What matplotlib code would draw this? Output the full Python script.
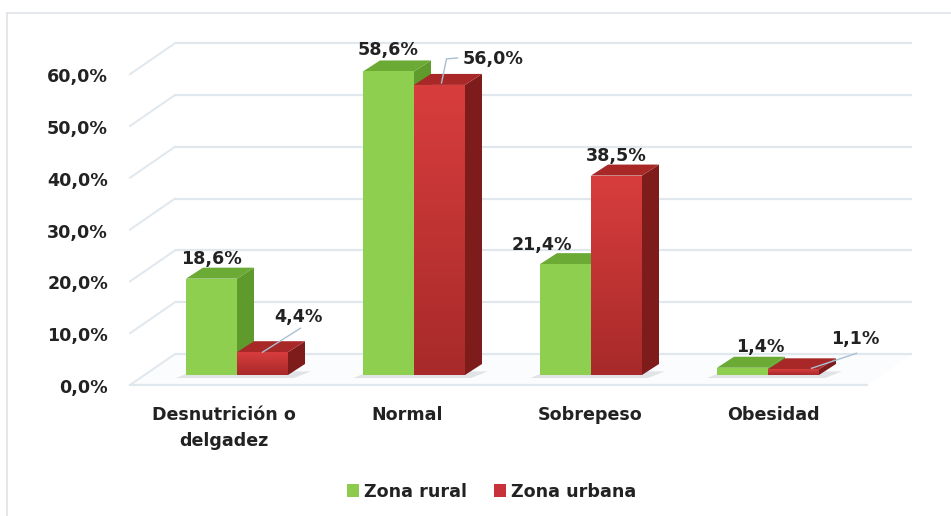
import numpy as np
import matplotlib
matplotlib.use("Agg")
import matplotlib.pyplot as plt
from matplotlib.patches import Polygon, Rectangle, Patch
from matplotlib.lines import Line2D
from matplotlib.colors import LinearSegmentedColormap

# ---------------- data ----------------
categories = ["Desnutrición o\ndelgadez", "Normal", "Sobrepeso", "Obesidad"]
series_names = ["Zona rural", "Zona urbana"]
rural = [18.6, 58.6, 21.4, 1.4]
urbana = [4.4, 56.0, 38.5, 1.1]
y_ticks = [0, 10, 20, 30, 40, 50, 60]


def fmt(v):
    return f"{v:.1f}".replace(".", ",") + "%"


# ---------------- figure / projection ----------------
W, H, DPI = 951, 516, 100
fig = plt.figure(figsize=(W / DPI, H / DPI), dpi=DPI)
fig.patch.set_facecolor("white")
ax = fig.add_axes([0, 0, 1, 1])
ax.axis("off")

X0_PX, Y0_PX = 237.0, 375.0      # pixel of category 0 / value 0 (bar front base)
PX_PER_CAT = 177.0
PX_PER_PCT = 5.18
XLIM = (-X0_PX / PX_PER_CAT, (W - X0_PX) / PX_PER_CAT)
YLIM = (-(H - Y0_PX) / PX_PER_PCT, Y0_PX / PX_PER_PCT)


def dx(px):
    return px / PX_PER_CAT


def dy(px):  # px measured downward on screen
    return -px / PX_PER_PCT


def P(xpx, ypx):  # screen pixel -> data
    return ((xpx - X0_PX) / PX_PER_CAT, (Y0_PX - ypx) / PX_PER_PCT)


FONT = dict(family="DejaVu Sans", weight="bold", size=12.6)
TXT = "#222222"
GRID = "#e0e7ed"

# ---------------- walls / gridlines ----------------
fl = [P(130, 385), P(867, 385), P(912, 354), P(175, 354)]
ax.add_patch(Polygon(fl, closed=True, facecolor="#fbfcfd", edgecolor="none", zorder=0))

for v in y_ticks:
    bx0, by = P(175, 354)
    bx1, _ = P(912, 354)
    fx, fy = P(130, 385)
    ax.plot([bx0, bx1], [by + v, by + v], color=GRID, lw=1.6, zorder=1,
            solid_capstyle="butt")
    ax.plot([fx, bx0], [fy + v, by + v], color=GRID, lw=1.4, zorder=1)
    lx, _ = P(108, 0)
    ax.text(lx, fy + v + dy(8), fmt(v), ha="right", va="baseline", color=TXT, **FONT)

fx0, fy0 = P(130, 385)
fx1, _ = P(867, 385)
ax.plot([fx0, fx1], [fy0, fy0], color=GRID, lw=1.6, zorder=1)

# ---------------- 3D bars ----------------
BW = dx(51)
DEPX, DEPY = dx(17), dy(-11)

colors = {
    "rural": dict(front="#8fcf4f", side="#5e9a2c", top="#6aaa35"),
    "urbana": dict(front="#cf3535", side="#7e1c1c", top="#a82828"),
}
red_cmap = LinearSegmentedColormap.from_list("r", ["#a82a2a", "#d83d3d"])

# shadows on floor
for i in range(len(categories)):
    xl = i - BW - dx(10)
    xr = i + BW + DEPX + dx(6)
    shadow = [(xl, dy(3)), (xr - DEPX, dy(3)), (xr, dy(3) + DEPY * 0.6),
              (xl + DEPX, dy(3) + DEPY * 0.6)]
    ax.add_patch(Polygon(shadow, closed=True, facecolor="#c9cdd2", alpha=0.5,
                         edgecolor="none", zorder=2))


def bar3d(x_left, v, c, gradient=None):
    x_r = x_left + BW
    side = [(x_r, 0), (x_r + DEPX, DEPY), (x_r + DEPX, v + DEPY), (x_r, v)]
    top = [(x_left, v), (x_r, v), (x_r + DEPX, v + DEPY), (x_left + DEPX, v + DEPY)]
    ax.add_patch(Polygon(side, closed=True, facecolor=c["side"], edgecolor="none", zorder=3))
    ax.add_patch(Polygon(top, closed=True, facecolor=c["top"], edgecolor="none", zorder=3))
    rect = Rectangle((x_left, 0), BW, v, facecolor=c["front"], edgecolor="none", zorder=3)
    ax.add_patch(rect)
    if gradient is not None:
        g = np.linspace(0, 1, 64).reshape(-1, 1)
        im = ax.imshow(g, cmap=gradient, origin="lower", aspect="auto",
                       extent=[x_left, x_r, 0, v], zorder=3.1, interpolation="bilinear")
        im.set_clip_path(rect)


for i in range(len(categories)):
    bar3d(i - BW, rural[i], colors["rural"])
    bar3d(i, urbana[i], colors["urbana"], gradient=red_cmap)

ax.set_xlim(*XLIM)
ax.set_ylim(*YLIM)

# ---------------- data labels ----------------
rural_off = [(0, -15), (0, -16), (-24, -14), (18, -16)]
urb_off = [(36, -30), (54, -21), (0, -15), (62, -25)]
leader = {
    0: [(0, 0), (38, -24)],
    1: [(2, -2), (7, -26), (18, -27)],
    3: [(18, -1), (63, -16)],
}
LEAD = "#a9bfd3"

for i in range(len(categories)):
    cx = i - BW / 2
    ox, oy = rural_off[i]
    ax.text(cx + dx(ox), rural[i] + dy(oy), fmt(rural[i]), ha="center",
            va="baseline", color=TXT, zorder=6, **FONT)

for i in range(len(categories)):
    cx = i + BW / 2
    ox, oy = urb_off[i]
    ax.text(cx + dx(ox), urbana[i] + dy(oy), fmt(urbana[i]), ha="center",
            va="baseline", color=TXT, zorder=6, **FONT)
    if i in leader:
        pts = leader[i]
        xs = [cx + dx(p[0]) for p in pts]
        ys = [urbana[i] + dy(p[1]) for p in pts]
        ax.plot(xs, ys, color=LEAD, lw=1.0, zorder=5)

# ---------------- category labels ----------------
for i, cat in enumerate(categories):
    lx = dx(224 - X0_PX) + i * dx(183)
    for k, line in enumerate(cat.split("\n")):
        _, ly = P(0, 420 + 26 * k)
        ax.text(lx, ly, line, ha="center", va="baseline", color=TXT, **FONT)

# ---------------- legend ----------------
handles = [Patch(facecolor="#8ccb4c", edgecolor="none"),
           Patch(facecolor="#c8323a", edgecolor="none")]
fig.legend(handles, series_names, loc="center",
           bbox_to_anchor=(491.7 / W, 1 - 491.7 / H), ncol=2, frameon=False,
           handlelength=0.7, handleheight=0.7, handletextpad=0.3,
           columnspacing=1.5, prop=dict(family="DejaVu Sans", weight="bold", size=12.6),
           labelcolor=TXT)

# ---------------- outer frame ----------------
fig.add_artist(Line2D([7 / W, 7 / W], [0, 1 - 13 / H], color="#dfe3e8", lw=1.2))
fig.add_artist(Line2D([7 / W, 1], [1 - 13 / H, 1 - 13 / H], color="#dfe3e8", lw=1.2))

fig.savefig("out.png", dpi=DPI, facecolor="white")
